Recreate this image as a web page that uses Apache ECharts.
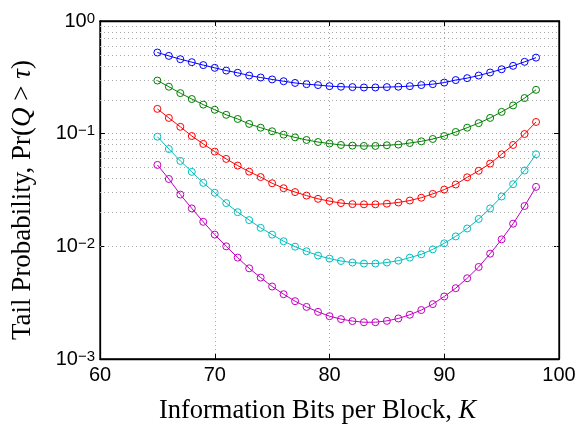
<!DOCTYPE html>
<html>
<head>
<meta charset="utf-8">
<script src="https://cdn.jsdelivr.net/npm/echarts@6/dist/echarts.min.js"></script>
<style>html,body{margin:0;padding:0;background:#fff}#c{width:581px;height:430px}</style>
</head>
<body>
<div id="c"></div>
<script>
// Information bits per block K
const kValues = [65,66,67,68,69,70,71,72,73,74,75,76,77,78,79,80,81,82,83,84,85,86,87,88,89,90,91,92,93,94,95,96,97,98];
const blueSeries = [0.525,0.490,0.458,0.431,0.406,0.384,0.363,0.347,0.328,0.315,0.303,0.292,0.282,0.275,0.270,0.264,0.261,0.259,0.257,0.257,0.259,0.261,0.264,0.270,0.275,0.284,0.299,0.311,0.328,0.349,0.373,0.400,0.434,0.473];
const greenSeries = [0.296,0.261,0.229,0.203,0.181,0.163,0.147,0.135,0.122,0.113,0.105,0.0980,0.0927,0.0879,0.0843,0.0817,0.0794,0.0783,0.0778,0.0778,0.0789,0.0800,0.0826,0.0855,0.0897,0.0953,0.1035,0.113,0.124,0.138,0.156,0.178,0.207,0.245];
const redSeries = [0.166,0.138,0.115,0.0953,0.0811,0.0693,0.0597,0.0521,0.0460,0.0412,0.0363,0.0328,0.0303,0.0282,0.0264,0.0252,0.0242,0.0237,0.0236,0.0236,0.0239,0.0245,0.0255,0.0270,0.0292,0.0319,0.0354,0.0410,0.0468,0.0543,0.0656,0.0794,0.0993,0.127];
const cyanSeries = [0.0940,0.0731,0.0573,0.0458,0.0366,0.0299,0.0242,0.0201,0.0171,0.0146,0.0127,0.0111,0.00993,0.00904,0.00828,0.00778,0.00741,0.00718,0.00703,0.00703,0.00718,0.00746,0.00794,0.00849,0.00940,0.01064,0.01225,0.0144,0.0175,0.0217,0.0277,0.0356,0.0471,0.0656];
const magentaSeries = [0.0528,0.0396,0.0288,0.0217,0.0165,0.0127,0.0100,0.00794,0.00638,0.00528,0.00440,0.00376,0.00326,0.00290,0.00262,0.00240,0.00226,0.00217,0.00212,0.00212,0.00218,0.00229,0.00247,0.00272,0.00307,0.00359,0.00425,0.00521,0.00656,0.00861,0.01153,0.01589,0.0228,0.0337];
const xTicks = [60,70,80,90,100];
const yTicks = [0.001,0.01,0.1,1];
const minorGrid = [0.002,0.003,0.004,0.005,0.006,0.007,0.008,0.009,0.02,0.03,0.04,0.05,0.06,0.07,0.08,0.09,0.2,0.3,0.4,0.5,0.6,0.7,0.8,0.9];

const seriesDefs = [
  {name:'s1', data: blueSeries, color:'#0000ff'},
  {name:'s2', data: greenSeries, color:'#008000'},
  {name:'s3', data: redSeries, color:'#ff0000'},
  {name:'s4', data: cyanSeries, color:'#00bfbf'},
  {name:'s5', data: magentaSeries, color:'#bf00bf'}
];

const gridColor = '#a8a8a8';
const sans = "'Liberation Sans', Arial, sans-serif";
const serif = "'Liberation Serif', 'Times New Roman', serif";

const chart = echarts.init(document.getElementById('c'), null, {renderer:'canvas'});

function yLabel(v){
  const e = Math.round(Math.log10(v));
  const s = e < 0 ? '\u2212' + (-e) : String(e);
  return '{b|10}{s|' + s + '}';
}

const series = seriesDefs.map(d => ({
  name: d.name,
  type: 'line',
  data: kValues.map((k,i) => [k, d.data[i]]),
  symbol: 'circle',
  symbolSize: 7,
  showSymbol: true,
  lineStyle: {color: d.color, width: 1},
  itemStyle: {color: 'rgba(0,0,0,0)', borderColor: d.color, borderWidth: 1},
  emphasis: {disabled: true},
  silent: true,
  z: 5
}));

series.push({
  type: 'line',
  data: [],
  silent: true,
  markLine: {
    silent: true,
    symbol: 'none',
    label: {show: false},
    lineStyle: {color: gridColor, type: [1,3], width: 1},
    data: minorGrid.map(v => ({yAxis: v}))
  },
  z: 1
});

chart.setOption({
  animation: false,
  backgroundColor: '#fff',
  grid: {left: 100, right: 22, top: 21, bottom: 70, show: true, borderColor: '#000', borderWidth: 1.3, backgroundColor: 'transparent'},
  xAxis: [{
    type: 'value', min: 60, max: 100, interval: 10,
    axisLine: {show: true, lineStyle: {color: '#000', width: 1.3}},
    axisTick: {show: true, inside: true, length: 5, lineStyle: {color: '#000'}},
    axisLabel: {color: '#000', fontFamily: sans, fontSize: 20, margin: 6,
      formatter: v => (xTicks.indexOf(v) >= 0 ? String(v) : '')},
    splitLine: {show: true, lineStyle: {color: gridColor, type: [1,3], width: 1}},
    name: '{r|Information Bits per Block, }{i|K}',
    nameLocation: 'middle', nameGap: 39,
    nameTextStyle: {padding: [0, 24, 0, 0], rich: {
      r: {fontFamily: serif, fontSize: 26.5, color: '#000'},
      i: {fontFamily: serif, fontSize: 26.5, fontStyle: 'italic', color: '#000'}
    }}
  },{
    type: 'value', min: 60, max: 100, interval: 10, position: 'top',
    axisLine: {show: true, lineStyle: {color: '#000', width: 1.3}},
    axisTick: {show: true, inside: true, length: 5, lineStyle: {color: '#000'}},
    axisLabel: {show: false},
    splitLine: {show: false}
  }],
  yAxis: [{
    type: 'log', logBase: 10, min: 0.001, max: 1,
    axisLine: {show: true, lineStyle: {color: '#000', width: 1.3}},
    axisTick: {show: true, inside: true, length: 5, lineStyle: {color: '#000'}},
    axisLabel: {color: '#000', margin: 5, showMinLabel: true, showMaxLabel: true,
      formatter: yLabel,
      rich: {
        b: {fontFamily: sans, fontSize: 20, lineHeight: 20, verticalAlign: 'middle', color: '#000'},
        s: {fontFamily: sans, fontSize: 15, lineHeight: 15, verticalAlign: 'top', padding: [0,0,22,0], color: '#000'}
      }
    },
    splitLine: {show: true, lineStyle: {color: gridColor, type: [1,3], width: 1}},
    name: '{r|Tail Probability, Pr(}{i|Q}{r| > }{i|\u03c4}{r|)}',
    nameLocation: 'middle', nameGap: 64, nameRotate: 90,
    nameTextStyle: {padding: [0, 20, 0, 0], rich: {
      r: {fontFamily: serif, fontSize: 27, color: '#000'},
      i: {fontFamily: serif, fontSize: 27, fontStyle: 'italic', color: '#000'}
    }}
  },{
    type: 'log', logBase: 10, min: 0.001, max: 1, position: 'right',
    axisLine: {show: true, lineStyle: {color: '#000', width: 1.3}},
    axisTick: {show: true, inside: true, length: 5, lineStyle: {color: '#000'}},
    axisLabel: {show: false},
    splitLine: {show: false}
  }],
  series: series
});
</script>
</body>
</html>
